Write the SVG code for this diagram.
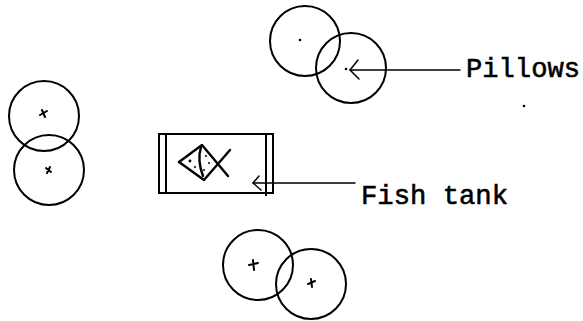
<svg xmlns="http://www.w3.org/2000/svg" width="583" height="321" viewBox="0 0 583 321">
  <style>
    .pillow { fill: none; stroke: #000; stroke-width: 2; }
    .mark { fill: none; stroke: #000; stroke-width: 2; stroke-linecap: round; }
    .dot { fill: #000; }
    .tank { fill: none; stroke: #000; stroke-width: 2; }
    .fish { fill: none; stroke: #000; stroke-width: 2.4; stroke-linecap: round; stroke-linejoin: round; }
    .lead { fill: none; stroke: #000; stroke-width: 1.5; stroke-linecap: round; stroke-linejoin: round; }
    .label { font-family: "Liberation Mono", "Courier New", monospace; font-size: 28px; fill: #000; stroke: #000; stroke-width: 0.6; }
  </style>
  <rect width="583" height="321" fill="#fff"/>

  <!-- pillows, top pair -->
  <g id="pillow-top-left">
    <circle class="pillow" cx="305" cy="41" r="35"/>
    <circle class="dot" cx="300" cy="40" r="1.3"/>
  </g>
  <g id="pillow-top-right">
    <circle class="pillow" cx="351" cy="68" r="35"/>
    <circle class="dot" cx="346" cy="69" r="1.3"/>
  </g>

  <!-- pillows, left pair -->
  <g id="pillow-left-upper">
    <circle class="pillow" cx="44" cy="116" r="35"/>
    <path class="mark" d="M40 115 L47 111 M42 110 L45 117"/>
  </g>
  <g id="pillow-left-lower">
    <circle class="pillow" cx="49" cy="170" r="35"/>
    <path class="mark" d="M46 168 L51 172 M50 167 L47 173"/>
  </g>

  <!-- pillows, bottom pair -->
  <g id="pillow-bottom-left">
    <circle class="pillow" cx="258" cy="265" r="35"/>
    <path class="mark" d="M249 265 L258 263 M253 260 L254 270"/>
  </g>
  <g id="pillow-bottom-right">
    <circle class="pillow" cx="311" cy="284" r="35"/>
    <path class="mark" d="M308 284 L315 281 M311 279 L312 287"/>
  </g>

  <!-- fish tank -->
  <g id="fish-tank">
    <rect class="tank" x="159" y="134" width="114" height="59"/>
    <line class="tank" x1="166" y1="134" x2="166" y2="193"/>
    <line class="tank" x1="266" y1="134" x2="266" y2="196"/>
    <g id="fish">
      <path class="fish" d="M179 162 L202 145 L228 176"/>
      <path class="fish" d="M179 162 L204 180 L230 150"/>
      <path class="fish" d="M201 147 Q197 160 203 176" stroke-width="1.2"/>
      <circle class="dot" cx="190" cy="161" r="1.4"/>
      <circle class="dot" cx="195" cy="167" r="1"/>
      <circle class="dot" cx="206" cy="156" r="1"/>
      <circle class="dot" cx="209" cy="163" r="1"/>
      <circle class="dot" cx="204" cy="170" r="1"/>
    </g>
  </g>

  <!-- leaders -->
  <g id="connectors">
    <path class="lead" d="M358 60 L350 70 L359 79"/>
    <line class="lead" x1="350" y1="70" x2="460" y2="70"/>
    <path class="lead" d="M259 176 L253 183 L261 190"/>
    <line class="lead" x1="253" y1="183" x2="355" y2="183"/>
  </g>

  <!-- labels -->
  <g id="labels">
    <text class="label" x="466" y="77" textLength="114" lengthAdjust="spacingAndGlyphs">Pillows</text>
    <text class="label" x="361" y="204" textLength="147" lengthAdjust="spacingAndGlyphs">Fish tank</text>
    <circle class="dot" cx="524" cy="106" r="1.3"/>
  </g>
</svg>
